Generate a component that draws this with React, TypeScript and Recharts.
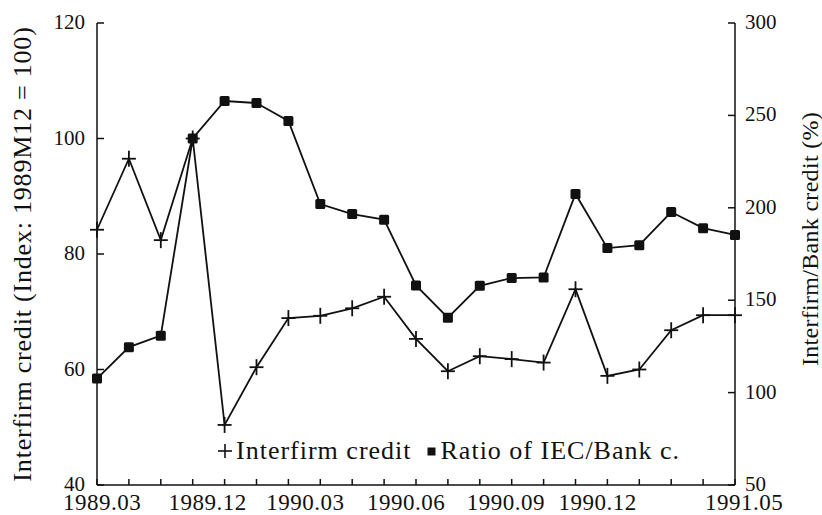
import React from 'react';
import { LineChart, Line, XAxis, YAxis, Legend } from 'recharts';

// 1989 quarterly, then monthly from 1990.01
const dates = [
  '1989.03', '1989.06', '1989.09', '1989.12',
  '1990.01', '1990.02', '1990.03', '1990.04', '1990.05', '1990.06',
  '1990.07', '1990.08', '1990.09', '1990.10', '1990.11', '1990.12',
  '1991.01', '1991.02', '1991.03', '1991.04', '1991.05',
];

// Interfirm credit index (1989M12 = 100), left axis
const interfirmCredit = [
  84.2, 96.5, 82.4, 100, 50.4, 60.4, 68.9, 69.3, 70.6, 72.6,
  65.3, 59.7, 62.3, 61.8, 61.2, 73.9, 58.9, 60.0, 66.8, 69.4, 69.4,
];

// Ratio of interfirm credit to bank credit (%), right axis
const ratioIecBank = [
  107.6, 124.6, 130.8, 237.5, 257.8, 256.7, 247.0, 202.0, 196.6, 193.6,
  158.0, 140.5, 157.8, 162.0, 162.3, 207.5, 178.2, 179.8, 197.7, 189.0, 185.3,
];

const xLabels = ['1989.03', '1989.12', '1990.03', '1990.06', '1990.09', '1990.12', '1991.05'];
const leftTicks = [40, 60, 80, 100, 120];
const rightTicks = [50, 100, 150, 200, 250, 300];

const data = dates.map((d, i) => ({
  date: d,
  interfirm: interfirmCredit[i],
  ratio: ratioIecBank[i],
}));

const FONT = '"Liberation Serif", "Times New Roman", serif';
const INK = '#111';

// the printed labels sit a little right of their tick
const labelShift: Record<string, number> = {
  '1989.03': 5, '1989.12': 15, '1990.03': 17, '1990.06': 22,
  '1990.09': 26, '1990.12': 22, '1991.05': 9,
};

const XTick = ({ x, y, payload }: any) => {
  const show = xLabels.includes(payload.value);
  return (
    <g>
      <line x1={x} y1={y} x2={x} y2={y - 6} stroke={INK} strokeWidth={1.5} />
      {show && (
        <text x={x + (labelShift[payload.value] || 0)} y={y + 25} textAnchor="middle" fontSize={23} letterSpacing={0.5} fontFamily={FONT} fill={INK}>
          {payload.value}
        </text>
      )}
    </g>
  );
};

const LeftTick = ({ x, y, payload }: any) => (
  <g>
    <line x1={x} y1={y} x2={x + 7} y2={y} stroke={INK} strokeWidth={1.5} />
    <text x={x - 12} y={y + 6} textAnchor="end" fontSize={21} fontFamily={FONT} fill={INK}>
      {payload.value}
    </text>
  </g>
);

const RightTick = ({ x, y, payload }: any) => (
  <g>
    <line x1={x} y1={y} x2={x - 7} y2={y} stroke={INK} strokeWidth={1.5} />
    <text x={x + 10} y={y + 6} textAnchor="start" fontSize={21} fontFamily={FONT} fill={INK}>
      {payload.value}
    </text>
  </g>
);

const CrossDot = ({ cx, cy, index }: any) => (
  <g key={`c-${index}`}>
    <line x1={cx - 7} y1={cy} x2={cx + 7} y2={cy} stroke={INK} strokeWidth={1.8} />
    <line x1={cx} y1={cy - 8} x2={cx} y2={cy + 8} stroke={INK} strokeWidth={1.8} />
  </g>
);

const SquareDot = ({ cx, cy, index }: any) => (
  <rect key={`s-${index}`} x={cx - 5} y={cy - 5} width={10} height={10} rx={1.5} fill={INK} />
);

const LeftTitle = ({ viewBox }: any) => {
  const cx = viewBox.x + 22;
  const cy = viewBox.y + viewBox.height / 2;
  return (
    <text x={cx} y={cy} transform={`rotate(-90 ${cx} ${cy})`} textAnchor="middle" dominantBaseline="central"
      fontSize={26} letterSpacing={0.8} fontFamily={FONT} fill={INK}>
      Interfirm credit (Index: 1989M12 = 100)
    </text>
  );
};

const RightTitle = ({ viewBox }: any) => {
  const cx = viewBox.x + 75;
  const cy = viewBox.y + viewBox.height / 2 - 15;
  return (
    <text x={cx} y={cy} transform={`rotate(-90 ${cx} ${cy})`} textAnchor="middle" dominantBaseline="central"
      fontSize={24} letterSpacing={0.3} fontFamily={FONT} fill={INK}>
      Interfirm/Bank credit (%)
    </text>
  );
};

const LegendContent = () => (
  <div style={{ fontFamily: FONT, fontSize: 26, letterSpacing: 1, color: INK, whiteSpace: 'nowrap', display: 'flex', alignItems: 'center' }}>
    <svg width={16} height={16} style={{ marginRight: 3 }}>
      <line x1={1} y1={8} x2={15} y2={8} stroke={INK} strokeWidth={1.6} />
      <line x1={8} y1={1} x2={8} y2={15} stroke={INK} strokeWidth={1.6} />
    </svg>
    <span>Interfirm credit</span>
    <svg width={9} height={9} style={{ marginLeft: 15, marginRight: 5 }}>
      <rect x={0.5} y={0.5} width={8} height={8} fill={INK} />
    </svg>
    <span>Ratio of IEC/Bank c.</span>
  </div>
);

export default function App() {
  return (
    <div style={{ position: 'absolute', left: 0, top: 0, width: 822, height: 515, background: '#fff' }}>
      <LineChart width={822} height={515} data={data} margin={{ top: 23, right: 0, bottom: 0, left: 0 }}>
        <XAxis
          dataKey="date"
          height={30}
          interval={0}
          tickSize={0}
          tickMargin={0}
          tick={<XTick />}
          axisLine={{ stroke: INK, strokeWidth: 1.5 }}
        />
        <YAxis
          yAxisId="left"
          orientation="left"
          width={97}
          domain={[40, 120]}
          ticks={leftTicks}
          tickSize={0}
          tickMargin={0}
          tick={<LeftTick />}
          axisLine={{ stroke: INK, strokeWidth: 1.5 }}
          label={<LeftTitle />}
        />
        <YAxis
          yAxisId="right"
          orientation="right"
          width={87}
          domain={[50, 300]}
          ticks={rightTicks}
          tickSize={0}
          tickMargin={0}
          tick={<RightTick />}
          axisLine={{ stroke: INK, strokeWidth: 1.5 }}
          label={<RightTitle />}
        />
        <Legend
          verticalAlign="middle"
          align="center"
          content={<LegendContent />}
          wrapperStyle={{ position: 'absolute', left: 217, top: 436, width: 'auto' }}
        />
        <Line
          yAxisId="left"
          dataKey="interfirm"
          name="Interfirm credit"
          stroke={INK}
          strokeWidth={1.8}
          dot={CrossDot}
          isAnimationActive={false}
        />
        <Line
          yAxisId="right"
          dataKey="ratio"
          name="Ratio of IEC/Bank c."
          stroke={INK}
          strokeWidth={1.8}
          dot={SquareDot}
          isAnimationActive={false}
        />
      </LineChart>
    </div>
  );
}
